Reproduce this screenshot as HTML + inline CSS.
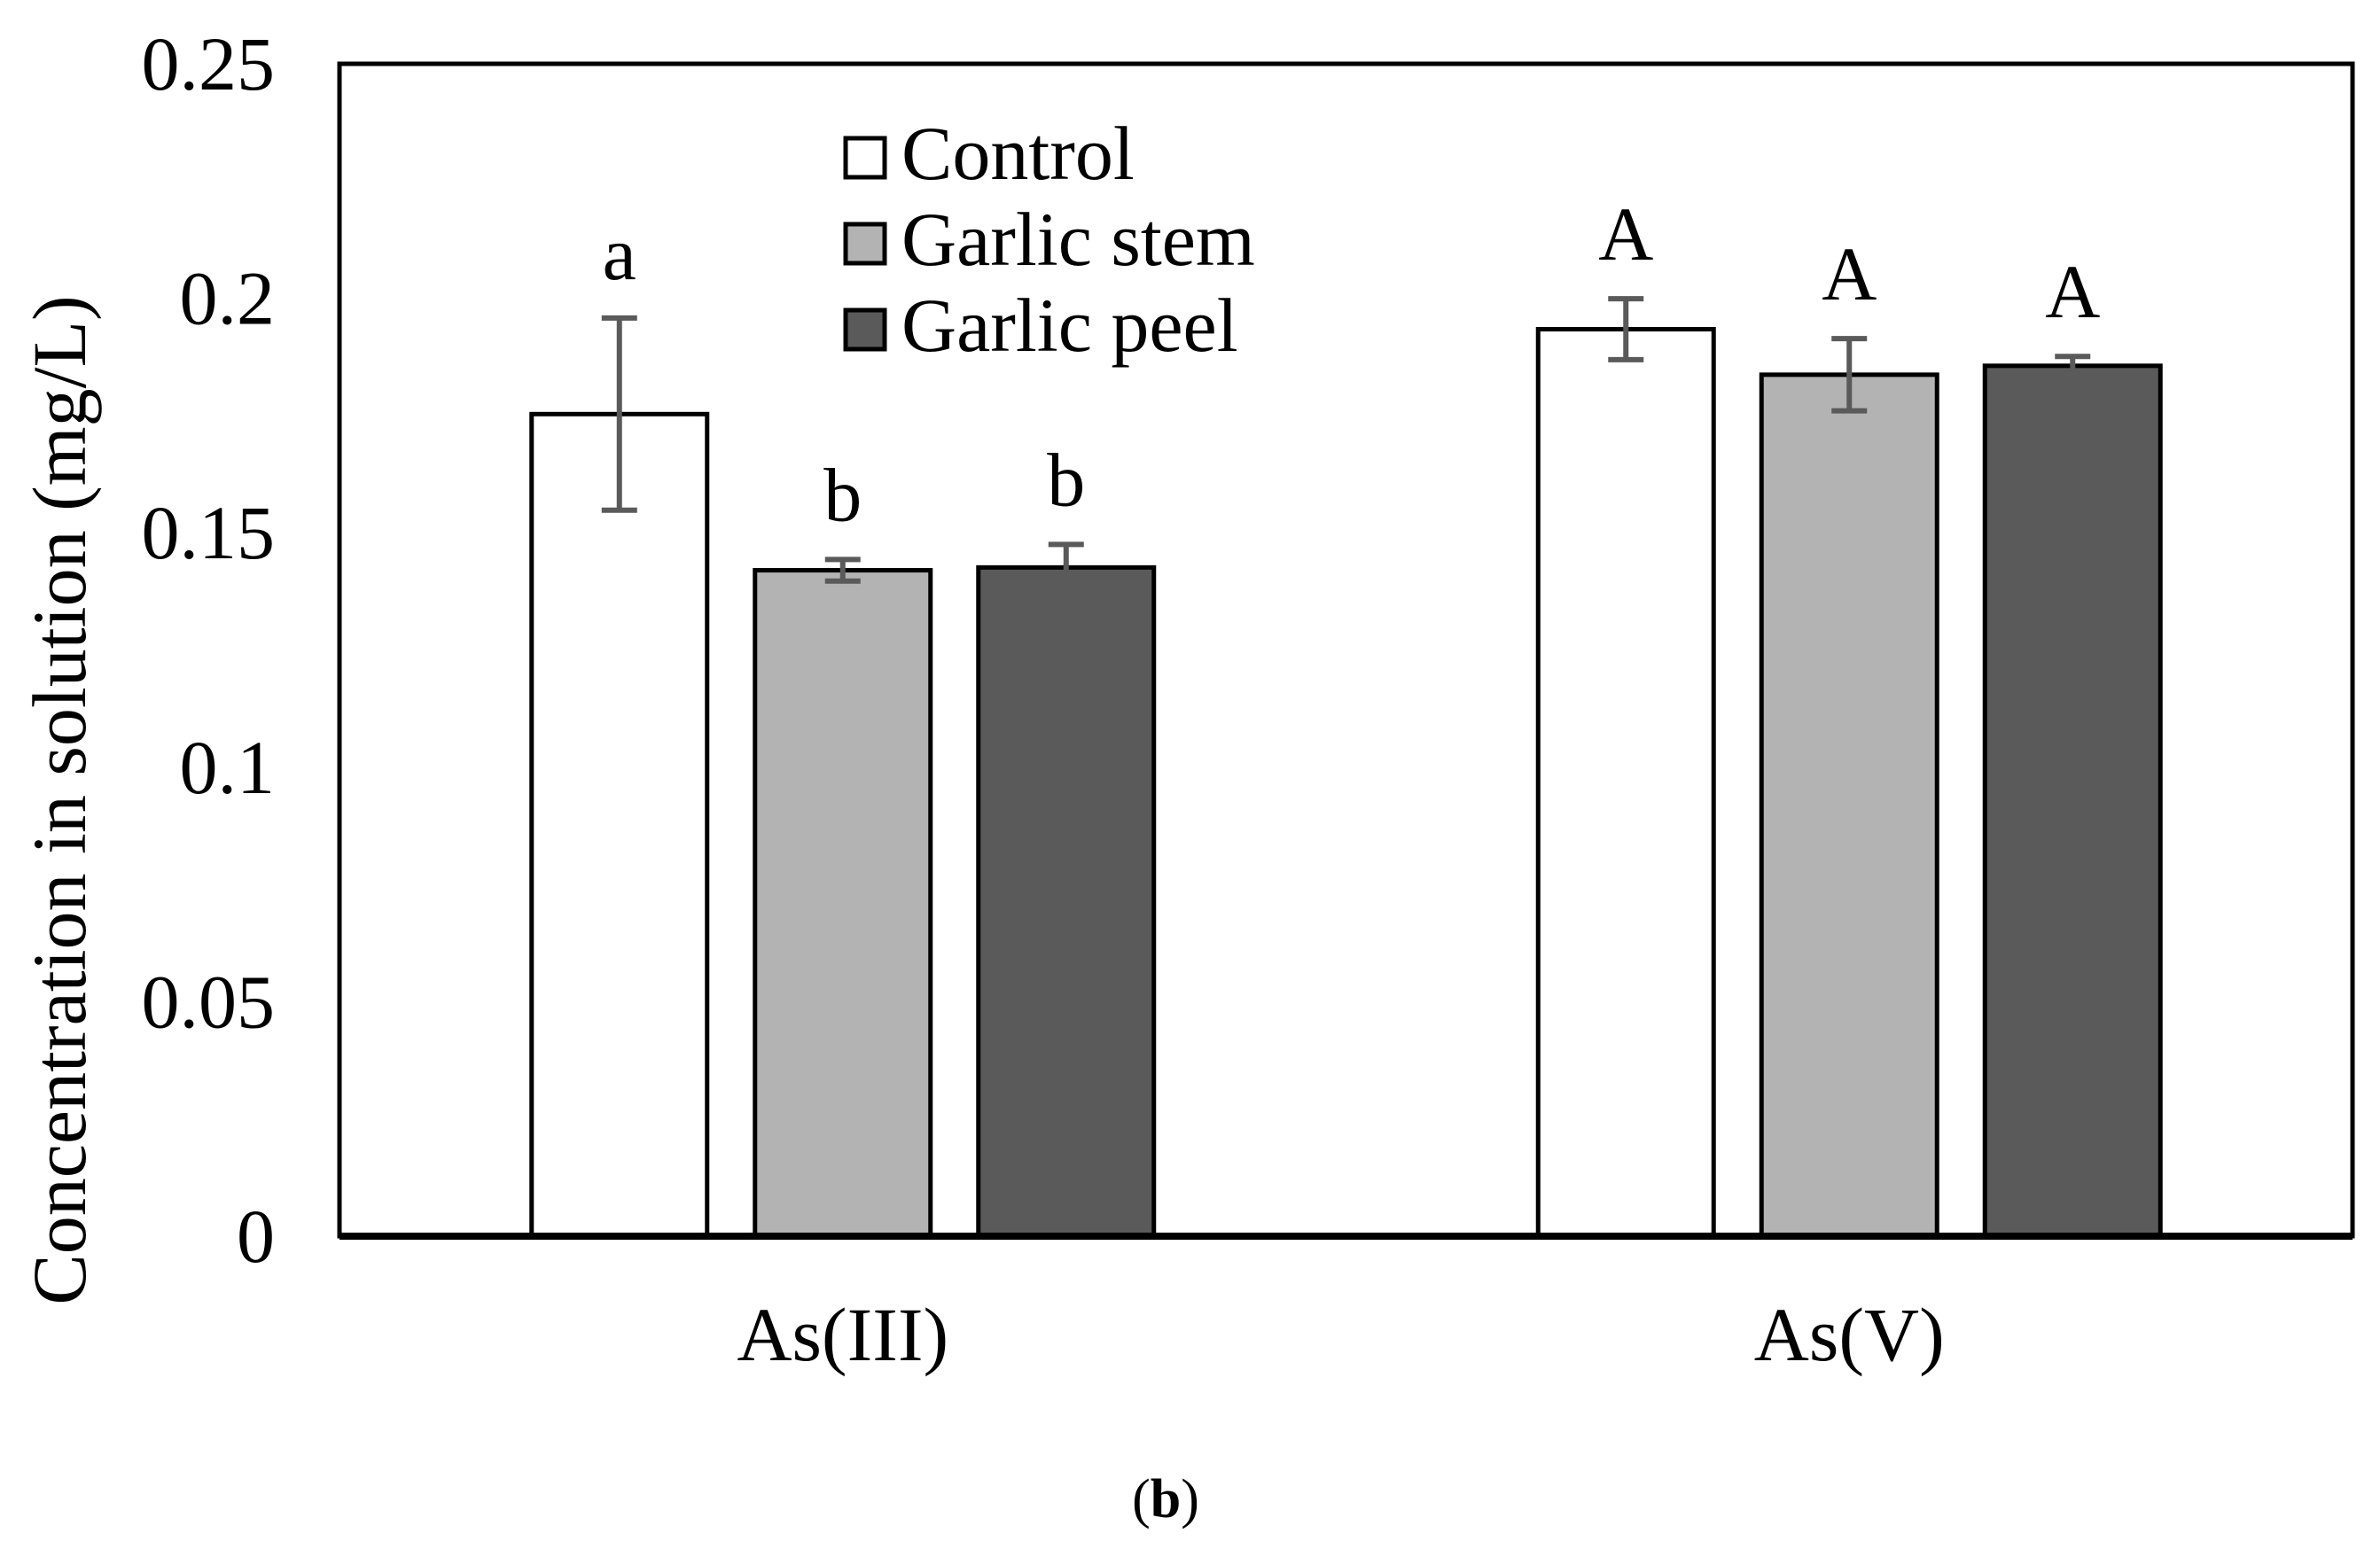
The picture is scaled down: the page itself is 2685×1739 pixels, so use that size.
<!DOCTYPE html>
<html><head><meta charset="utf-8"><style>
html,body{margin:0;padding:0;background:#fff;}
svg{display:block;font-family:"Liberation Serif",serif;}
</style></head><body>
<svg id="chart" width="2685" height="1739" viewBox="0 0 2685 1739">
<rect x="0" y="0" width="2685" height="1739" fill="#fff"/>
<g id="plot"></g>
</svg>
<script>
const categories = ["As(III)", "As(V)"];
const seriesNames = ["Control", "Garlic stem", "Garlic peel"];
const seriesColors = ["#ffffff", "#b3b3b3", "#5a5a5a"];
const controlValues = [0.1753, 0.1934];
const stemValues = [0.1420, 0.1837];
const peelValues = [0.1426, 0.1856];
const controlErr = [0.0205, 0.0065];
const stemErr = [0.0023, 0.0077];
const peelErr = [0.0049, 0.0020];
const controlLetters = ["a", "A"];
const stemLetters = ["b", "A"];
const peelLetters = ["b", "A"];
const yTicks = [0, 0.05, 0.1, 0.15, 0.2, 0.25];
const yTickLabels = ["0", "0.05", "0.1", "0.15", "0.2", "0.25"];

const NS = "http://www.w3.org/2000/svg";
const L = 383, R = 2654, T = 72, B = 1395;
const yMax = 0.25;
function yScale(v){ return B - v / yMax * (B - T); }
const band = (R - L) / categories.length;
function xCenter(i){ return L + band * (i + 0.5); }
const barW = 198, barStep = 252;
const FS = 86;
const g = document.getElementById('plot');
function mk(tag, attrs){ const e = document.createElementNS(NS, tag); for (const k in attrs) e.setAttribute(k, attrs[k]); g.appendChild(e); return e; }

const frame = mk('rect', {x:L, y:T, width:R-L, height:B-T, fill:'none', stroke:'#000', 'stroke-width':5});



yTicks.forEach((t, i) => {
  const tx = mk('text', {x:310, y:yScale(t)+29, 'text-anchor':'end', 'font-size':FS, fill:'#000'});
  tx.textContent = yTickLabels[i];
  
  
});

const values = [controlValues, stemValues, peelValues];
const errs = [controlErr, stemErr, peelErr];
const letters = [controlLetters, stemLetters, peelLetters];
categories.forEach((c, ci) => {
  values.forEach((vals, si) => {
    const cx = xCenter(ci) + (si - 1) * barStep;
    const y = yScale(vals[ci]);
    const bar = mk('rect', {x:cx - barW/2, y:y, width:barW, height:B - y, fill:seriesColors[si], stroke:'#000', 'stroke-width':5});
    
    
    const eTop = yScale(vals[ci] + errs[si][ci]);
    const eBot = yScale(vals[ci] - errs[si][ci]);
    const eb = mk('path', {d:`M${cx},${eTop}V${eBot}M${cx-20},${eTop}H${cx+20}M${cx-20},${eBot}H${cx+20}`, stroke:'#5a5a5a', 'stroke-width':6, fill:'none'});
    
    
    const lt = mk('text', {x:cx, y:eTop - 44, 'text-anchor':'middle', 'font-size':FS, fill:'#000'});
    lt.textContent = letters[si][ci];
    
    
  });
  const cl = mk('text', {x:xCenter(ci), y:1535, 'text-anchor':'middle', 'font-size':FS, fill:'#000'});
  cl.textContent = c;
  
  
});

const xa = mk('line', {x1:L, y1:B, x2:R, y2:B, stroke:'#000', 'stroke-width':8});



seriesNames.forEach((n, i) => {
  const y0 = 156 + i * 97;
  const sw = mk('rect', {x:954, y:y0, width:44, height:44, fill:seriesColors[i], stroke:'#000', 'stroke-width':5});
  
  
  const lt = mk('text', {x:1017, y:y0 + 46, 'font-size':FS, fill:'#000'});
  lt.textContent = n;
  
  
});

const yt = mk('text', {x:0, y:0, 'text-anchor':'middle', 'font-size':FS, fill:'#000', transform:'translate(96,903) rotate(-90)'});
yt.textContent = 'Concentration in solution (mg/L)';



const pl = mk('text', {x:1315, y:1712, 'text-anchor':'middle', 'font-size':62, fill:'#000'});
pl.innerHTML = '(<tspan font-weight="bold">b</tspan>)';


</script>
</body></html>
